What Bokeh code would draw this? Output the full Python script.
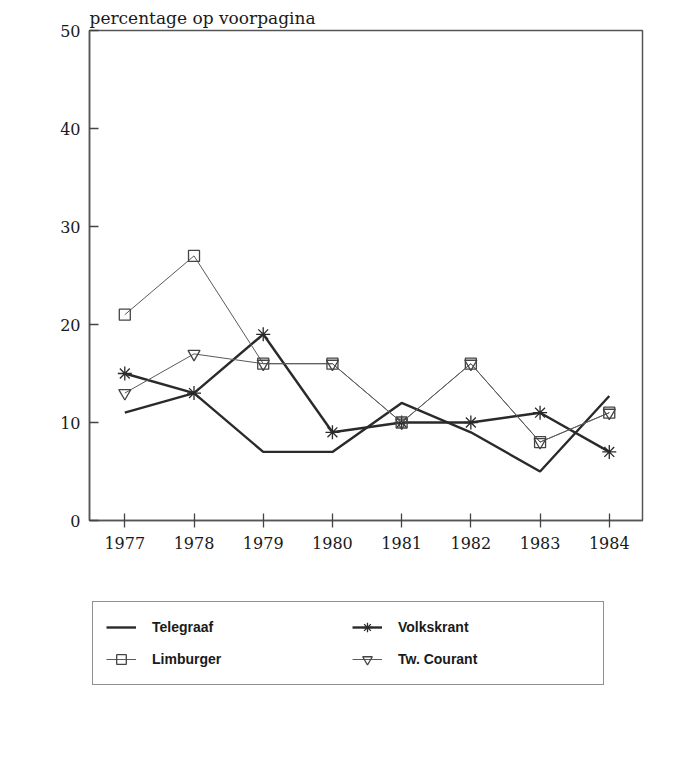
from bokeh.plotting import figure
from bokeh.models import Legend, LegendItem, FixedTicker, Range1d
from bokeh.layouts import column
from bokeh.embed import file_html
from bokeh.resources import INLINE

# ---- data ----
years = [1977, 1978, 1979, 1980, 1981, 1982, 1983, 1984]
telegraaf = [11, 13, 7, 7, 12, 9, 5, 12.7]
volkskrant = [15, 13, 19, 9, 10, 10, 11, 7]
limburger = [21, 27, 16, 16, 10, 16, 8, 11]
tw_courant = [13, 17, 16, 16, 10, 16, 8, 11]
y_ticks = [0, 10, 20, 30, 40, 50]
series_names = ["Telegraaf", "Volkskrant", "Limburger", "Tw. Courant"]
title_text = "percentage op voorpagina"

SERIF = "DejaVu Serif"
DARK = "#2a2a2a"
THIN = "#5a5a5a"
MARK = "#444444"

styles = {
    "Telegraaf": dict(line=dict(line_color=DARK, line_width=2.4), marker=None),
    "Volkskrant": dict(line=dict(line_color=DARK, line_width=2.4),
                       marker=dict(marker="asterisk", size=14, line_color=DARK, line_width=1.3)),
    "Limburger": dict(line=dict(line_color=THIN, line_width=1),
                      marker=dict(marker="square", size=11, line_color=MARK,
                                  fill_color=None, line_width=1.3)),
    "Tw. Courant": dict(line=dict(line_color=THIN, line_width=1),
                        marker=dict(marker="inverted_triangle", size=12, line_color=MARK,
                                    fill_color=None, line_width=1.3)),
}
values = dict(zip(series_names, [telegraaf, volkskrant, limburger, tw_courant]))

# ---------------- main chart ----------------
p = figure(width=683, height=570, output_backend="svg", toolbar_location=None,
           x_range=Range1d(1976.49, 1984.48), y_range=Range1d(0, 50),
           min_border_left=89, min_border_right=41, min_border_top=30,
           min_border_bottom=50)
p.background_fill_color = "white"
p.border_fill_color = "white"
p.outline_line_color = "#555555"
p.outline_line_width = 1.5
p.xgrid.visible = False
p.ygrid.visible = False

p.title.text = title_text
p.title.text_font = SERIF
p.title.text_font_size = "17px"
p.title.text_font_style = "normal"
p.title.text_color = "#1a1a1a"
p.title.align = "left"
p.title.standoff = 6
p.title.offset = 0

for ax in (p.xaxis[0], p.yaxis[0]):
    ax.axis_line_color = "#555555"
    ax.axis_line_width = 1.5
    ax.major_tick_line_color = "#444444"
    ax.major_tick_line_width = 1.3
    ax.minor_tick_line_color = None
    ax.major_label_text_font = SERIF
    ax.major_label_text_font_size = "16px"
    ax.major_label_text_color = "#1a1a1a"

p.xaxis.ticker = FixedTicker(ticks=years)
p.xaxis.major_tick_in = 7
p.xaxis.major_tick_out = 7
p.xaxis.major_label_standoff = 9

p.yaxis.ticker = FixedTicker(ticks=y_ticks)
p.yaxis.major_tick_in = 9
p.yaxis.major_tick_out = 0
p.yaxis.major_label_standoff = 9

for name in series_names:
    st = styles[name]
    p.line(years, values[name], **st["line"])
    if st["marker"] is not None:
        p.scatter(years, values[name], **st["marker"])

# ---------------- legend panel ----------------
# the sample renderers reuse the series data but fall outside this panel's ranges,
# so only their legend glyphs are visible
lg = figure(width=683, height=130, output_backend="svg", toolbar_location=None,
            x_range=Range1d(0, 1), y_range=Range1d(0, 1),
            x_axis_location=None, y_axis_location=None,
            min_border_left=0, min_border_right=0, min_border_top=0, min_border_bottom=0)
lg.outline_line_color = None
lg.xgrid.visible = False
lg.ygrid.visible = False
lg.background_fill_color = "white"
lg.border_fill_color = "white"

items = []
for name in series_names:
    st = styles[name]
    rs = [lg.line(years, values[name], **st["line"])]
    if st["marker"] is not None:
        rs.append(lg.scatter(years, values[name], **st["marker"]))
    items.append(LegendItem(label=name, renderers=rs))

legend = Legend(items=items, location=(3, 15), orientation="horizontal", ncols=2)
legend.label_text_font = "Liberation Sans"
legend.label_text_font_style = "bold"
legend.label_text_font_size = "14px"
legend.label_text_color = "#1a1a1a"
legend.glyph_width = 30
legend.glyph_height = 24
legend.label_height = 24
legend.label_width = 192
legend.label_standoff = 16
legend.spacing = 8
legend.padding = 13
legend.border_line_color = "#222222"
legend.border_line_width = 1.5
legend.background_fill_color = "white"
legend.background_fill_alpha = 1.0
lg.add_layout(legend)

layout = column(p, lg, spacing=0)
open("out.html", "w").write(file_html(layout, INLINE))
